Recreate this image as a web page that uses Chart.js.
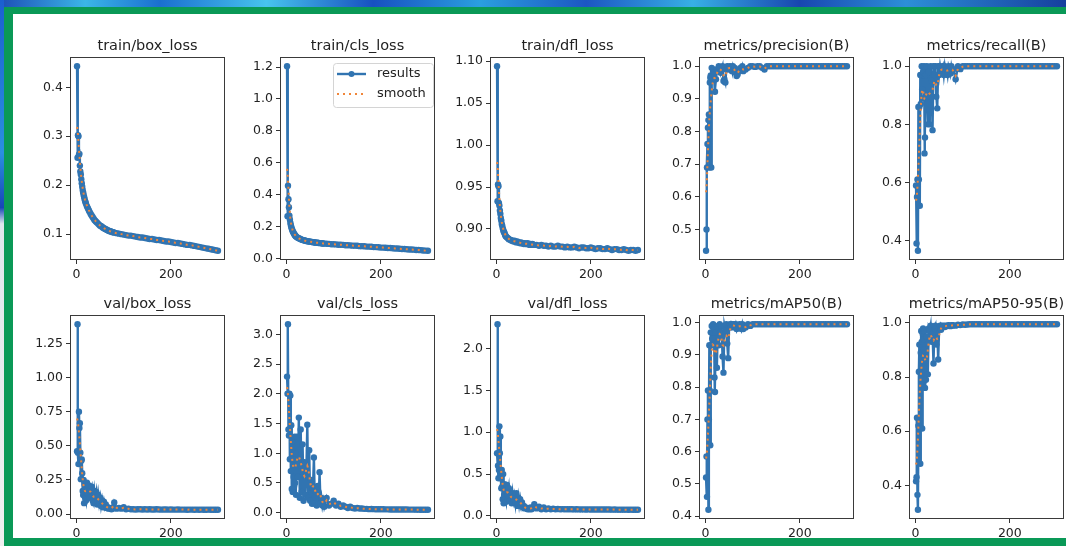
<!DOCTYPE html>
<html>
<head>
  <title>results</title>
  <style>
    body {
      margin: 0;
      padding: 0;
      width: 1066px;
      height: 546px;
      overflow: hidden;
      position: relative;
      background-color: #fff;
      font-family: 'DejaVu Sans', sans-serif;
    }
    canvas.plot {
      position: absolute;
    }
    .deco {
      position: absolute;
      z-index: 5;
    }
  </style>
</head>
<body>

  <!-- frame around the screenshot -->
  <div class="deco" style="left:0;top:0;width:1066px;height:7px;background:linear-gradient(90deg,#1d4fb6 0%,#3bb6e8 8%,#1a6fd0 15%,#47c4ee 25%,#1750c0 35%,#2a9fe0 45%,#1c56c2 55%,#37b0e6 65%,#1846b0 75%,#2c8fd8 85%,#163f9e 100%);"></div>
  <div class="deco" style="left:0;top:0;width:4px;height:546px;background:linear-gradient(180deg,#1b5fd0 0%,#2a8fe0 28%,#1746b8 38%,#dfe6ec 41%,#f0f0f0 100%);"></div>
  <div class="deco" style="left:4px;top:7px;width:1062px;height:7px;background:#0a9957;"></div>
  <div class="deco" style="left:4px;top:7px;width:9px;height:539px;background:#0a9957;"></div>
  <div class="deco" style="left:4px;top:538px;width:1062px;height:8px;background:#0a9957;"></div>

<script src="https://cdn.jsdelivr.net/npm/chart.js"></script>
<script>
  // epochs (every epoch early on, then sampled)
  const epochs = [
    1,2,3,4,5,6,7,8,9,10,11,12,13,14,15,16,17,18,19,20,
    22,24,26,28,30,32,34,36,38,40,42,44,46,48,50,52,54,56,58,60,62,64,66,68,70,72,74,76,78,80,
    85,90,95,100,105,110,115,120,125,130,135,140,145,150,155,160,165,170,175,180,185,190,195,200,
    205,210,215,220,225,230,235,240,245,250,255,260,265,270,275,280,285,290,295,300
  ];

  const trainBox = [
    0.443,0.256,0.302,0.300,0.262,0.264,0.240,0.228,0.222,0.212,0.204,0.197,0.190,0.185,0.180,0.176,0.172,0.168,0.165,0.162,
    0.157,0.153,0.149,0.145,0.141,0.138,0.135,0.132,0.129,0.127,0.125,0.123,0.121,0.119,0.117,0.116,0.115,0.113,0.112,0.111,
    0.110,0.109,0.108,0.107,0.106,0.106,0.105,0.104,0.104,0.103,
    0.102,0.101,0.100,0.099,0.098,0.097,0.097,0.096,0.095,0.094,0.093,0.093,0.092,0.091,0.090,0.090,0.089,0.088,0.088,0.087,
    0.086,0.085,0.085,0.084,0.083,0.082,0.082,0.081,0.080,0.079,0.078,0.078,0.077,0.076,0.075,0.074,0.073,0.072,0.071,0.070,
    0.069,0.068,0.067,0.066
  ];
  const trainCls = [
    1.205,0.266,0.456,0.372,0.322,0.268,0.245,0.225,0.210,0.198,0.188,0.180,0.172,0.166,0.160,0.155,0.150,0.146,0.142,0.139,
    0.134,0.130,0.127,0.124,0.121,0.119,0.117,0.115,0.113,0.112,0.110,0.109,0.108,0.107,0.106,0.105,0.104,0.103,0.102,0.101,
    0.100,0.099,0.099,0.098,0.097,0.097,0.096,0.095,0.095,0.094,
    0.093,0.092,0.090,0.090,0.089,0.087,0.087,0.086,0.084,0.084,0.083,0.081,0.081,0.080,0.078,0.078,0.077,0.075,0.075,0.074,
    0.072,0.072,0.071,0.069,0.069,0.068,0.066,0.066,0.065,0.063,0.063,0.062,0.060,0.060,0.059,0.057,0.057,0.056,0.054,0.054,
    0.053,0.051,0.050,0.049
  ];
  const trainDfl = [
    1.094,0.933,0.953,0.951,0.931,0.928,0.922,0.918,0.913,0.910,0.906,0.904,0.901,0.899,0.897,0.896,0.895,0.893,0.892,0.891,
    0.890,0.889,0.888,0.887,0.887,0.886,0.886,0.885,0.886,0.885,0.884,0.885,0.884,0.884,0.883,0.884,0.883,0.883,0.882,0.883,
    0.882,0.882,0.883,0.882,0.881,0.882,0.881,0.882,0.881,0.881,
    0.881,0.880,0.881,0.880,0.880,0.879,0.880,0.879,0.879,0.880,0.879,0.879,0.878,0.879,0.878,0.878,0.879,0.878,0.877,0.878,
    0.878,0.877,0.877,0.878,0.877,0.876,0.877,0.877,0.876,0.876,0.877,0.876,0.875,0.876,0.876,0.875,0.875,0.876,0.875,0.874,
    0.875,0.875,0.874,0.875
  ];
  const precision = [
    0.435,0.500,0.690,0.762,0.812,0.835,0.852,0.690,0.950,0.965,0.972,0.690,0.995,0.970,0.958,0.985,0.990,0.975,0.982,0.922,
    0.960,0.990,0.985,1.000,0.995,0.980,0.990,1.000,0.955,0.960,0.950,0.990,1.000,0.995,0.990,1.000,0.995,0.985,1.000,0.990,
    0.995,0.980,0.970,0.975,0.985,0.990,0.995,0.990,1.000,0.985,
    0.990,0.995,1.000,1.000,0.998,1.000,1.000,0.995,0.990,1.000,1.000,1.000,1.000,1.000,1.000,1.000,1.000,1.000,1.000,1.000,
    1.000,1.000,1.000,1.000,1.000,1.000,1.000,1.000,1.000,1.000,1.000,1.000,1.000,1.000,1.000,1.000,1.000,1.000,1.000,1.000,
    1.000,1.000,1.000,1.000
  ];
  const recall = [
    0.590,0.390,0.550,0.610,0.365,0.860,0.610,0.860,0.520,0.970,0.870,0.970,1.000,0.920,0.970,0.980,0.890,1.000,0.700,0.755,
    0.970,1.000,0.800,0.980,0.800,1.000,0.950,0.780,1.000,0.970,1.000,0.895,0.855,1.000,0.970,1.000,0.980,0.990,1.000,0.970,
    1.000,0.980,0.990,0.970,1.000,0.990,0.975,1.000,0.985,0.990,
    0.955,1.000,0.990,1.000,1.000,1.000,1.000,1.000,1.000,1.000,1.000,1.000,1.000,1.000,1.000,1.000,1.000,1.000,1.000,1.000,
    1.000,1.000,1.000,1.000,1.000,1.000,1.000,1.000,1.000,1.000,1.000,1.000,1.000,1.000,1.000,1.000,1.000,1.000,1.000,1.000,
    1.000,1.000,1.000,1.000
  ];
  const valBox = [
    0.460,1.390,0.450,0.366,0.749,0.630,0.665,0.450,0.256,0.390,0.400,0.300,0.170,0.140,0.250,0.080,0.220,0.120,0.200,0.100,
    0.230,0.150,0.210,0.120,0.180,0.200,0.100,0.080,0.170,0.120,0.160,0.070,0.140,0.080,0.120,0.060,0.100,0.050,0.090,0.050,
    0.070,0.045,0.050,0.040,0.045,0.040,0.035,0.040,0.050,0.085,
    0.040,0.045,0.040,0.050,0.035,0.040,0.035,0.036,0.034,0.035,0.036,0.034,0.035,0.034,0.035,0.034,0.034,0.035,0.034,0.033,
    0.034,0.034,0.033,0.034,0.033,0.033,0.034,0.033,0.033,0.033,0.032,0.033,0.033,0.032,0.033,0.032,0.033,0.032,0.032,0.033,
    0.032,0.032,0.032,0.032
  ];
  const valCls = [
    2.290,2.000,3.170,1.400,1.300,2.000,0.900,1.970,0.700,1.470,0.400,1.200,0.350,0.900,0.600,0.450,1.280,0.500,1.000,0.300,
    1.280,0.600,1.600,0.250,1.400,0.350,1.150,0.200,0.850,0.300,0.700,1.480,0.250,1.050,0.200,0.550,0.150,0.400,0.930,0.150,
    0.350,0.120,0.450,0.150,0.680,0.150,0.250,0.120,0.200,0.100,
    0.250,0.120,0.150,0.200,0.120,0.150,0.100,0.120,0.100,0.080,0.100,0.080,0.070,0.080,0.070,0.070,0.065,0.065,0.060,0.062,
    0.060,0.058,0.058,0.057,0.057,0.056,0.056,0.055,0.055,0.055,0.054,0.054,0.053,0.053,0.053,0.052,0.052,0.052,0.051,0.051,
    0.050,0.050,0.050,0.050
  ];
  const valDfl = [
    0.750,2.290,0.600,0.450,0.550,1.070,0.750,0.950,0.450,0.330,0.550,0.350,0.200,0.500,0.150,0.250,0.380,0.200,0.300,0.170,
    0.370,0.250,0.330,0.180,0.280,0.150,0.270,0.180,0.240,0.150,0.270,0.120,0.220,0.130,0.200,0.120,0.160,0.100,0.120,0.090,
    0.100,0.090,0.080,0.090,0.080,0.100,0.080,0.090,0.100,0.140,
    0.090,0.110,0.080,0.100,0.080,0.090,0.080,0.085,0.080,0.082,0.080,0.081,0.079,0.080,0.079,0.079,0.078,0.079,0.078,0.078,
    0.078,0.077,0.078,0.077,0.077,0.077,0.076,0.077,0.076,0.076,0.076,0.076,0.075,0.076,0.075,0.075,0.075,0.075,0.075,0.074,
    0.075,0.074,0.074,0.074
  ];
  const map50 = [
    0.520,0.585,0.460,0.700,0.790,0.420,0.700,0.930,0.790,0.620,0.970,0.930,0.990,0.950,0.970,0.995,0.930,0.980,0.830,0.785,
    0.970,0.860,0.990,0.930,0.995,0.970,0.990,0.895,0.845,0.990,0.975,0.995,0.935,0.890,0.990,0.995,0.985,0.995,0.990,0.995,
    0.985,0.995,0.980,0.990,0.985,0.995,0.990,0.980,0.995,0.980,
    0.985,0.995,0.990,0.995,0.995,0.995,0.995,0.995,0.995,0.995,0.995,0.995,0.995,0.995,0.995,0.995,0.995,0.995,0.995,0.995,
    0.995,0.995,0.995,0.995,0.995,0.995,0.995,0.995,0.995,0.995,0.995,0.995,0.995,0.995,0.995,0.995,0.995,0.995,0.995,0.995,
    0.995,0.995,0.995,0.995
  ];
  const map5095 = [
    0.415,0.430,0.650,0.365,0.310,0.620,0.820,0.920,0.820,0.480,0.890,0.970,0.930,0.610,0.960,0.980,0.940,0.900,0.970,0.760,
    0.790,0.950,0.810,0.980,0.970,0.990,0.930,0.960,0.850,0.980,0.990,0.920,0.970,0.865,0.980,0.990,0.975,0.990,0.985,0.990,
    0.985,0.990,0.988,0.990,0.992,0.990,0.988,0.992,0.990,0.992,
    0.990,0.993,0.992,0.994,0.993,0.994,0.995,0.995,0.995,0.995,0.995,0.995,0.995,0.995,0.995,0.995,0.995,0.995,0.995,0.995,
    0.995,0.995,0.995,0.995,0.995,0.995,0.995,0.995,0.995,0.995,0.995,0.995,0.995,0.995,0.995,0.995,0.995,0.995,0.995,0.995,
    0.995,0.995,0.995,0.995
  ];

  const titles = [
    'train/box_loss', 'train/cls_loss', 'train/dfl_loss', 'metrics/precision(B)', 'metrics/recall(B)',
    'val/box_loss', 'val/cls_loss', 'val/dfl_loss', 'metrics/mAP50(B)', 'metrics/mAP50-95(B)'
  ];
  const series = [trainBox, trainCls, trainDfl, precision, recall, valBox, valCls, valDfl, map50, map5095];

  // tick labels per panel
  const yTickLabels = [
    ['0.1', '0.2', '0.3', '0.4'],
    ['0.0', '0.2', '0.4', '0.6', '0.8', '1.0', '1.2'],
    ['0.90', '0.95', '1.00', '1.05', '1.10'],
    ['0.5', '0.6', '0.7', '0.8', '0.9', '1.0'],
    ['0.4', '0.6', '0.8', '1.0'],
    ['0.00', '0.25', '0.50', '0.75', '1.00', '1.25'],
    ['0.0', '0.5', '1.0', '1.5', '2.0', '2.5', '3.0'],
    ['0.0', '0.5', '1.0', '1.5', '2.0'],
    ['0.4', '0.5', '0.6', '0.7', '0.8', '0.9', '1.0'],
    ['0.4', '0.6', '0.8', '1.0']
  ];
  const xTickLabels = ['0', '200'];
  const legendLabels = ['results', 'smooth'];

  const BLUE = '#3174b1';
  const ORANGE = '#f0863a';
  const TXT = '#222';

  // layout of the axes boxes
  const axLefts = [70, 280, 490, 699, 909];
  const axTops = [57, 315];
  const axHeights = [203, 204];
  const axW = 156;
  const padL = 55, padT = 27, padR = 3, padB = 22;

  // gaussian smoothing (sigma in epochs), reflected at both ends
  function smooth(xs, ys, sigma) {
    const n = xs.length;
    const w = xs.map((x, i) => {
      if (i === 0) return xs[1] - xs[0];
      if (i === n - 1) return xs[n - 1] - xs[n - 2];
      return (xs[i + 1] - xs[i - 1]) / 2;
    });
    const lo = 2 * xs[0] - 1, hi = 2 * xs[n - 1] + 1;
    return xs.map(x0 => {
      let s = 0, ws = 0;
      for (let j = 0; j < n; j++) {
        for (const xj of [xs[j], lo - xs[j], hi - xs[j]]) {
          const d = xj - x0;
          if (Math.abs(d) > 4 * sigma) continue;
          const k = Math.exp(-d * d / (2 * sigma * sigma)) * w[j];
          s += k * ys[j];
          ws += k;
        }
      }
      return s / ws;
    });
  }

  const frameTitle = {
    id: 'frameTitle',
    afterDraw(chart, args, opts) {
      const a = chart.chartArea, ctx = chart.ctx;
      ctx.save();
      ctx.strokeStyle = '#3a3a3a';
      ctx.lineWidth = 1;
      ctx.strokeRect(Math.round(a.left) + 0.5, Math.round(a.top) + 0.5,
        Math.round(a.right - a.left) - 1, Math.round(a.bottom - a.top) - 1);
      ctx.fillStyle = TXT;
      ctx.font = '14.5px "DejaVu Sans"';
      ctx.textAlign = 'center';
      ctx.textBaseline = 'alphabetic';
      ctx.fillText(opts.text, (a.left + a.right) / 2, a.top - 7);
      if (opts.legend) {
        const x1 = a.right - 102, y1 = a.top + 6, bw = 100, bh = 44;
        ctx.fillStyle = 'rgba(255,255,255,0.85)';
        ctx.strokeStyle = '#d4d4d4';
        ctx.beginPath();
        ctx.roundRect(x1 + 0.5, y1 + 0.5, bw, bh, 3);
        ctx.fill();
        ctx.stroke();
        ctx.lineWidth = 2.4;
        ctx.strokeStyle = BLUE;
        ctx.beginPath();
        ctx.moveTo(x1 + 4, y1 + 11);
        ctx.lineTo(x1 + 33, y1 + 11);
        ctx.stroke();
        ctx.fillStyle = BLUE;
        ctx.beginPath();
        ctx.arc(x1 + 18.5, y1 + 11, 3, 0, Math.PI * 2);
        ctx.fill();
        ctx.strokeStyle = ORANGE;
        ctx.lineWidth = 2;
        ctx.setLineDash([2, 4]);
        ctx.beginPath();
        ctx.moveTo(x1 + 4, y1 + 31);
        ctx.lineTo(x1 + 34, y1 + 31);
        ctx.stroke();
        ctx.setLineDash([]);
        ctx.fillStyle = TXT;
        ctx.font = '13px "DejaVu Sans"';
        ctx.textAlign = 'left';
        ctx.textBaseline = 'middle';
        ctx.fillText(legendLabels[0], x1 + 44, y1 + 11);
        ctx.fillText(legendLabels[1], x1 + 44, y1 + 31);
      }
      ctx.restore();
    }
  };

  function createPanel(i) {
    const col = i % 5, row = Math.floor(i / 5);
    const ys = series[i];
    const sm = smooth(epochs, ys, 3);
    const all = ys.concat(sm);
    const dmin = Math.min(...all), dmax = Math.max(...all);
    const ym = (dmax - dmin) * 0.05;
    const xm = (epochs[epochs.length - 1] - epochs[0]) * 0.05;
    const yLabels = yTickLabels[i];
    const yVals = yLabels.map(Number);
    const xVals = xTickLabels.map(Number);

    const canvas = document.createElement('canvas');
    canvas.className = 'plot';
    canvas.width = padL + axW + padR;
    canvas.height = padT + axHeights[row] + padB;
    canvas.style.left = (axLefts[col] - padL) + 'px';
    canvas.style.top = (axTops[row] - padT) + 'px';
    document.body.appendChild(canvas);

    const tickFont = { family: 'DejaVu Sans', size: 12.5 };

    return new Chart(canvas.getContext('2d'), {
      type: 'line',
      data: {
        datasets: [
          {
            label: legendLabels[0],
            data: epochs.map((x, k) => ({ x: x, y: ys[k] })),
            borderColor: BLUE,
            backgroundColor: BLUE,
            borderWidth: 2.4,
            pointRadius: 3.2,
            pointBorderWidth: 0,
            pointBackgroundColor: BLUE,
            tension: 0,
            order: 1
          },
          {
            label: legendLabels[1],
            data: epochs.map((x, k) => ({ x: x, y: sm[k] })),
            borderColor: ORANGE,
            borderWidth: 2,
            borderDash: [2, 4],
            pointRadius: 0,
            tension: 0,
            fill: false,
            order: 0
          }
        ]
      },
      options: {
        responsive: false,
        animation: false,
        devicePixelRatio: 1,
        events: [],
        layout: { padding: { top: padT, right: padR, left: 0, bottom: 0 } },
        plugins: {
          legend: { display: false },
          tooltip: { enabled: false },
          frameTitle: { text: titles[i], legend: i === 1 }
        },
        scales: {
          x: {
            type: 'linear',
            bounds: 'data',
            min: epochs[0] - xm,
            max: epochs[epochs.length - 1] + xm,
            afterBuildTicks: ax => { ax.ticks = xVals.map(v => ({ value: v })); },
            afterFit: ax => { ax.height = padB; },
            ticks: {
              autoSkip: false, maxRotation: 0, padding: 3, color: TXT, font: tickFont,
              callback: v => xTickLabels[xVals.indexOf(v)]
            },
            grid: { drawOnChartArea: false, tickLength: 4, tickColor: '#333' },
            border: { display: false }
          },
          y: {
            type: 'linear',
            bounds: 'data',
            min: dmin - ym,
            max: dmax + ym,
            afterBuildTicks: ax => { ax.ticks = yVals.map(v => ({ value: v })); },
            afterFit: ax => { ax.width = padL; },
            ticks: {
              autoSkip: false, padding: 3, color: TXT, font: tickFont,
              callback: v => yLabels[yVals.indexOf(v)]
            },
            grid: { drawOnChartArea: false, tickLength: 4, tickColor: '#333' },
            border: { display: false }
          }
        }
      },
      plugins: [frameTitle]
    });
  }

  for (let i = 0; i < series.length; i++) {
    createPanel(i);
  }
</script>

</body>
</html>
